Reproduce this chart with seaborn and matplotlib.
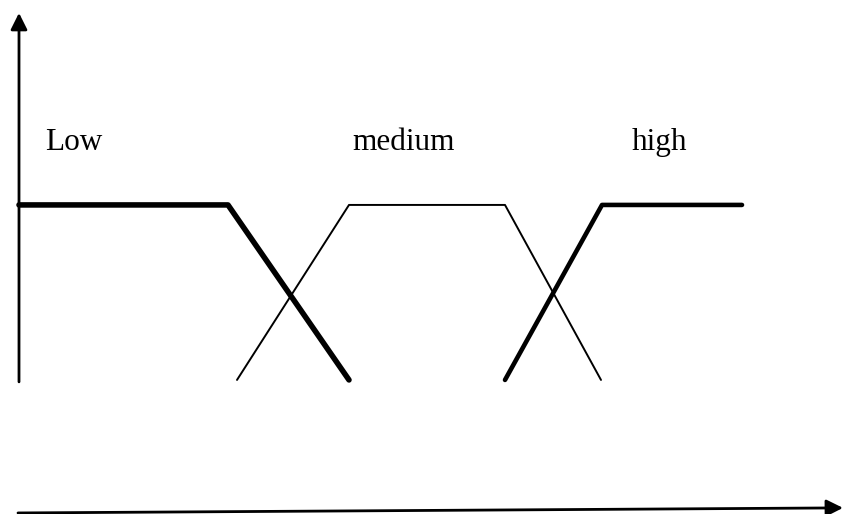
import matplotlib
matplotlib.use('Agg')
import matplotlib.pyplot as plt
import seaborn as sns

# membership functions (x in pixel-like units, mu 0..1)
low_x = [19, 228, 349]
low_mu = [1, 1, 0]
medium_x = [237, 349, 505, 601]
medium_mu = [0, 1, 1, 0]
high_x = [505, 602, 742]
high_mu = [0, 1, 1]

labels = ['Low', 'medium', 'high']
label_x = [45, 352, 632]
label_mu = [1.314, 1.314, 1.314]

sns.set_style('white')
plt.rcParams['font.family'] = ['Liberation Serif', 'DejaVu Serif']

fig = plt.figure(figsize=(8.43, 5.14), dpi=100)
ax = fig.add_axes([0, 0, 1, 1])

sns.lineplot(x=low_x, y=low_mu, sort=False, color='black', linewidth=4.0, ax=ax)
sns.lineplot(x=medium_x, y=medium_mu, sort=False, color='black', linewidth=1.4, ax=ax)
sns.lineplot(x=high_x, y=high_mu, sort=False, color='black', linewidth=3.3, ax=ax)

for txt, lx, ly in zip(labels, label_x, label_mu):
    ax.text(lx, ly, txt, fontsize=22.5, ha='left', va='baseline', color='black')

# axis arrows
arrow = dict(arrowstyle='-|>,head_length=0.5,head_width=0.25', mutation_scale=20,
             lw=2.0, color='black', shrinkA=0, shrinkB=0)
ax.annotate('', xy=(19, 2.097), xytext=(19, -0.011), arrowprops=arrow)
ax.annotate('', xy=(843, -0.731), xytext=(18, -0.76), arrowprops=arrow)

ax.set_xlim(0, 843)
ax.set_ylim(-0.766, 2.171)
ax.set_xticks([])
ax.set_yticks([])
sns.despine(ax=ax, left=True, bottom=True)

plt.savefig('out.png', dpi=100)
plt.close()
